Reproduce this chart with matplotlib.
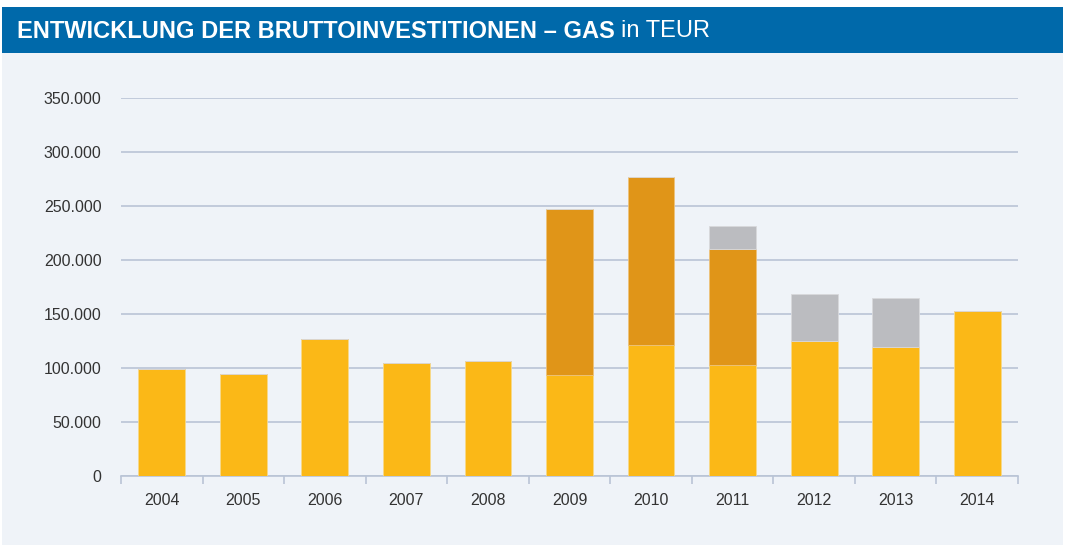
import matplotlib
matplotlib.use("Agg")
from matplotlib import pyplot as plt
from matplotlib.patches import Rectangle
import numpy as np

years = ["2004", "2005", "2006", "2007", "2008", "2009", "2010", "2011", "2012", "2013", "2014"]
base = [99000, 94500, 127000, 104500, 106500, 93500, 121500, 103000, 125000, 119500, 153000]
orange = [0, 0, 0, 0, 0, 153500, 155500, 107000, 0, 0, 0]
grey = [0, 0, 0, 0, 0, 0, 0, 21500, 43500, 45500, 0]
yticks = [0, 50000, 100000, 150000, 200000, 250000, 300000, 350000]
ytick_labels = ["0", "50.000", "100.000", "150.000", "200.000", "250.000", "300.000", "350.000"]

c_yellow = "#FBB817"
c_orange = "#E09518"
c_grey = "#BBBCC0"
c_blue = "#0069AA"
c_bg = "#EFF3F8"
c_grid = "#B9C4D6"

plt.rcParams["font.family"] = ["Liberation Sans", "DejaVu Sans"]

fig = plt.figure(figsize=(10.66, 5.48), dpi=100)
fig.patch.set_facecolor("white")
W, H = 1066, 548
# panel background and header band
fig.patches.append(Rectangle((2 / W, 1 - 545 / H), 1061 / W, (545 - 53) / H,
                             transform=fig.transFigure, facecolor=c_bg, edgecolor="none", zorder=-2))
fig.patches.append(Rectangle((2 / W, 1 - 53 / H), 1061 / W, 46 / H,
                             transform=fig.transFigure, facecolor=c_blue, edgecolor="none", zorder=-2))

ax = fig.add_axes([121 / W, 1 - 476 / H, (1018 - 121) / W, (476 - 98) / H])
ax.set_facecolor(c_bg)
ax.set_zorder(1)

x = np.arange(len(years))
bw = 0.575
b1 = np.array(base)
b2 = b1 + np.array(orange)
ax.bar(x, base, width=bw, color=c_yellow, edgecolor="#F7D98A", linewidth=0.6, zorder=3)
ax.bar(x, orange, bottom=b1, width=bw, color=c_orange, edgecolor="#EDC27A", linewidth=0.6, zorder=3)
ax.bar(x, grey, bottom=b2, width=bw, color=c_grey, edgecolor="#D8D9DC", linewidth=0.6, zorder=3)

ax.set_xlim(-0.5, len(years) - 0.5)
ax.set_ylim(0, 350000)
ax.set_yticks(yticks)
ax.set_yticklabels(ytick_labels, fontsize=11.5, color="#333333")
ax.yaxis.grid(True, color=c_grid, linewidth=1.2, zorder=0)
ax.set_axisbelow(True)
ax.tick_params(axis="y", length=0, pad=14)

ax.set_xticks(x)
ax.set_xticklabels(years, fontsize=11.5, color="#333333")
ax.tick_params(axis="x", which="major", length=0, pad=12)
ax.set_xticks(np.arange(-0.5, len(years)), minor=True)
ax.tick_params(axis="x", which="minor", length=6, width=1.2, color=c_grid, direction="out")

for s in ["top", "right", "left"]:
    ax.spines[s].set_visible(False)
ax.spines["bottom"].set_color(c_grid)
ax.spines["bottom"].set_linewidth(1.2)

t1 = fig.text(17 / W, 1 - 31 / H, "ENTWICKLUNG DER BRUTTOINVESTITIONEN – GAS",
              fontweight="bold", fontsize=17, color="white", va="center", ha="left")
fig.canvas.draw()
bb = t1.get_window_extent()
fig.text((bb.x1 + 6) / W, 1 - 31 / H, "in TEUR",
         fontsize=17, color="white", va="center", ha="left")

fig.savefig("out.png", dpi=100, facecolor=fig.get_facecolor())
